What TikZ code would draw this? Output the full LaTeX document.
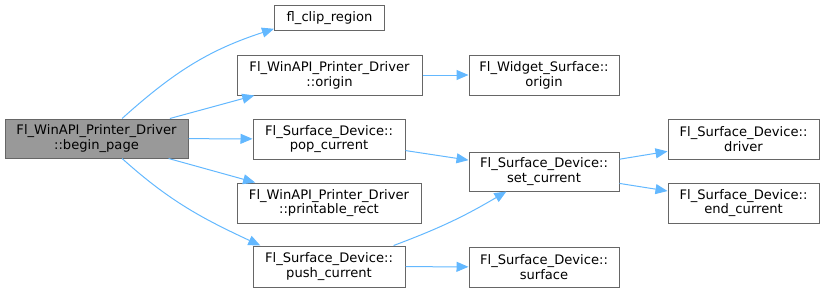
\documentclass[tikz,border=0pt]{standalone}
\usepackage{fontspec}
\setmainfont{DejaVu Sans}
\usetikzlibrary{arrows.meta, positioning}
\definecolor{cgedge}{RGB}{99, 184, 255}
\definecolor{cgline}{RGB}{102, 102, 102}
\definecolor{cgroot}{RGB}{153, 153, 153}
\tikzset{
  fnbox/.style={rectangle, draw=cgline, fill=white, line width=1pt,
                minimum width=#1, minimum height=40pt, inner sep=0pt, align=center,
                font=\fontsize{13.1}{14.8}\selectfont},
  fnbox/.default=150pt,
  rootbox/.style={fnbox=#1, fill=cgroot},
  rootbox/.default=183pt,
  call/.style={-{Triangle[length=12pt, width=10pt]}, line width=1pt, color=cgedge},
}

\begin{document}
\begin{tikzpicture}[x=1pt, y=1pt]
  \useasboundingbox (0,0) rectangle (824,-293);

  \node[rootbox, minimum height=39pt] (beginpage) at (96.5,-138.5) {Fl\_WinAPI\_Printer\_Driver\\::begin\_page};

  \node[fnbox=110pt, minimum height=25pt] (clipregion) at (329.5,-18) {fl\_clip\_region};
  \node[fnbox=185pt] (wporigin) at (329.5,-75) {Fl\_WinAPI\_Printer\_Driver\\::origin};
  \node[fnbox=152pt] (popcur) at (329,-139) {Fl\_Surface\_Device::\\pop\_current};
  \node[fnbox=184pt] (prtrect) at (329,-203) {Fl\_WinAPI\_Printer\_Driver\\::printable\_rect};
  \node[fnbox=152pt, minimum height=41pt] (pushcur) at (329,-266.5) {Fl\_Surface\_Device::\\push\_current};

  \node[fnbox] (wsorigin) at (544,-75) {Fl\_Widget\_Surface::\\origin};
  \node[fnbox, minimum height=39pt] (setcur) at (544,-171.5) {Fl\_Surface\_Device::\\set\_current};
  \node[fnbox] (surface) at (544,-267) {Fl\_Surface\_Device::\\surface};

  \node[fnbox=151pt] (driver) at (743.5,-139) {Fl\_Surface\_Device::\\driver};
  \node[fnbox=151pt] (endcur) at (743.5,-203) {Fl\_Surface\_Device::\\end\_current};

  % calls out of begin_page
  \draw[call] (beginpage.38) to[out=42, in=198] (clipregion.191);
  \draw[call] (beginpage) -- (wporigin);
  \draw[call] (beginpage) -- (popcur);
  \draw[call] (beginpage) -- (prtrect);
  \draw[call] (beginpage.-38) to[out=-42, in=155] (pushcur.163);

  % second level
  \draw[call] (wporigin) -- (wsorigin);
  \draw[call] (popcur) -- (setcur);
  \draw[call] (pushcur.18) to[bend right=5] (setcur.-152);
  \draw[call] (pushcur) -- (surface);
  \draw[call] (setcur) -- (driver);
  \draw[call] (setcur) -- (endcur);
\end{tikzpicture}
\end{document}
